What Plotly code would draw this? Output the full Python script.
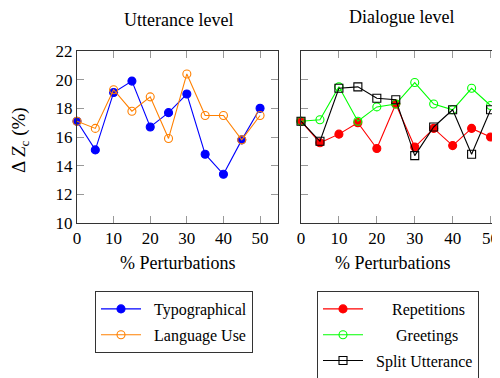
import plotly.graph_objects as go

x_vals = [0, 5, 10, 15, 20, 25, 30, 35, 40, 45, 50]
typographical = [17.1, 15.1, 19.1, 19.9, 16.7, 17.7, 19.0, 14.8, 13.4, 15.8, 18.0]
language_use = [17.1, 16.6, 19.3, 17.8, 18.8, 15.9, 20.4, 17.5, 17.5, 15.8, 17.5]
repetitions = [17.1, 15.6, 16.2, 17.0, 15.2, 18.3, 15.3, 16.6, 15.4, 16.6, 16.0]
greetings = [17.1, 17.2, 19.5, 17.1, 18.1, 18.3, 19.8, 18.3, 17.9, 19.4, 18.2]
split_utterance = [17.1, 15.7, 19.4, 19.5, 18.7, 18.6, 14.7, 16.7, 17.9, 14.8, 17.9]
y_ticks = [10, 12, 14, 16, 18, 20, 22]
x_ticks = [0, 10, 20, 30, 40, 50]

FONT = "Liberation Serif"
W, H, OFF = 500, 378, 8  # page body margin offset
NB = "\u00a0"


def px(xp):
    return (xp - OFF) / W


def py(yp):
    return 1 - (yp - OFF) / H


fig = go.Figure()


def add(y, name, color, symbol, xa, ya, legend):
    fig.add_trace(go.Scatter(
        x=x_vals, y=y, name=name, mode="lines+markers",
        line=dict(color=color, width=1.1),
        marker=dict(symbol=symbol, size=8, color=color,
                    line=dict(color=color, width=1.1)),
        xaxis=xa, yaxis=ya, legend=legend, legendgroup=name, cliponaxis=False))


add(typographical, NB * 2 + "Typographical", "#0000ff", "circle", "x", "y", "legend")
add(language_use, NB * 2 + "Language Use", "#ff8000", "circle-open", "x", "y", "legend")
add(repetitions, NB * 6 + "Repetitions", "#ff0000", "circle", "x2", "y2", "legend2")
add(greetings, NB * 7 + "Greetings", "#00ff00", "circle-open", "x2", "y2", "legend2")
add(split_utterance, NB * 2 + "Split Utterance", "#000000", "square-open", "x2", "y2", "legend2")

ydom = [py(223), py(51)]
common_x = dict(showline=True, linecolor="#333333", linewidth=1, mirror="allticks",
                ticks="inside", ticklen=7, tickcolor="#999999", tickwidth=1,
                tickvals=x_ticks, showgrid=False, zeroline=False,
                automargin=False,
                tickfont=dict(family=FONT, size=17, color="black"))
common_y = dict(showline=True, linecolor="#333333", linewidth=1, mirror="allticks",
                ticks="inside", ticklen=7, tickcolor="#999999", tickwidth=1,
                tickvals=y_ticks, range=[10, 22], showgrid=False, zeroline=False,
                automargin=False, domain=ydom)

tfont = dict(family=FONT, size=18, color="black")
lfont = dict(family=FONT, size=16, color="black")

fig.update_layout(
    width=W, height=H,
    margin=dict(l=0, r=0, t=0, b=0, autoexpand=False),
    plot_bgcolor="white", paper_bgcolor="white",
    font=dict(family=FONT, color="black"),
    xaxis=dict(domain=[px(77), px(278)], range=[0, 54.9], anchor="y", **common_x),
    yaxis=dict(anchor="x", tickfont=dict(family=FONT, size=17, color="black"), **common_y),
    xaxis2=dict(domain=[px(301), 1.0], range=[0, 54.6], anchor="y2", **common_x),
    yaxis2=dict(anchor="x2", showticklabels=False, **common_y),
    legend=dict(x=px(95), y=py(291), xanchor="left", yanchor="top",
                bordercolor="#333333", borderwidth=1, bgcolor="white",
                font=lfont, itemwidth=40, tracegroupgap=2),
    legend2=dict(x=px(317), y=py(291), xanchor="left", yanchor="top",
                 bordercolor="#333333", borderwidth=1, bgcolor="white",
                 font=lfont, itemwidth=40, tracegroupgap=2),
    annotations=[
        dict(text="Utterance level", x=px(178), y=py(20), xref="paper", yref="paper",
             xanchor="center", yanchor="middle", showarrow=False, font=tfont),
        dict(text="Dialogue level", x=px(401), y=py(17.5), xref="paper", yref="paper",
             xanchor="center", yanchor="middle", showarrow=False, font=tfont),
        dict(text="% Perturbations", x=px(177), y=py(263), xref="paper", yref="paper",
             xanchor="center", yanchor="middle", showarrow=False, font=tfont),
        dict(text="% Perturbations", x=px(392), y=py(263), xref="paper", yref="paper",
             xanchor="center", yanchor="middle", showarrow=False, font=tfont),
        dict(text="Δ <i>Z</i><sub>c</sub> (%)", x=px(20), y=py(140), xref="paper", yref="paper",
             xanchor="center", yanchor="middle", textangle=-90, showarrow=False,
             font=dict(family=FONT, size=19, color="black")),
    ],
)

fig.write_html("out.html")
